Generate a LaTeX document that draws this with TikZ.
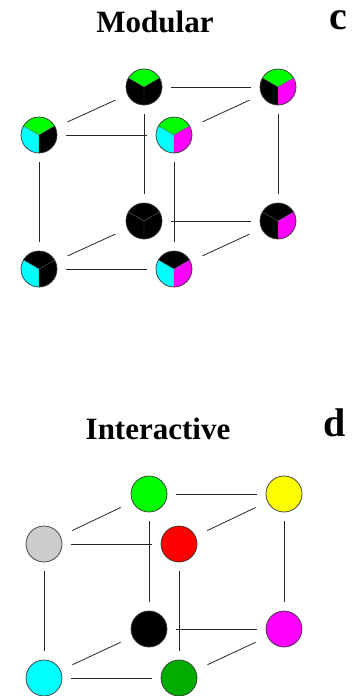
\documentclass[tikz,border=0pt]{standalone}
\usepackage{fontspec}
\setmainfont{Liberation Serif}

\definecolor{cgreen}{RGB}{0,255,0}
\definecolor{ccyan}{RGB}{0,255,255}
\definecolor{cmagenta}{RGB}{255,0,255}
\definecolor{cyellow}{RGB}{255,255,0}
\definecolor{cred}{RGB}{255,0,0}
\definecolor{cgray}{RGB}{204,204,204}
\definecolor{cdarkgreen}{RGB}{0,172,0}

\tikzset{
  vertex/.style={circle, draw=black!80, line width=0.7pt, minimum size=36pt, inner sep=0pt},
  edge/.style={draw=black!85, line width=0.8pt, shorten <=9pt, shorten >=9pt},
  slant/.style={edge, shorten <=13pt, shorten >=13pt},
  divider/.style={draw=black!65, line width=0.4pt},
  title/.style={font=\bfseries\fontsize{31}{31}\selectfont, anchor=base, inner sep=0pt},
  panel/.style={font=\bfseries\fontsize{40}{40}\selectfont, anchor=base, inner sep=0pt},
}

% three-sector disc: name, position, top colour, left colour, right colour
\newcommand\pienode[5]{%
  \fill[#3] (#2) -- ++(30:18pt) arc[start angle=30, end angle=150, radius=18pt] -- cycle;
  \fill[#4] (#2) -- ++(150:18pt) arc[start angle=150, end angle=270, radius=18pt] -- cycle;
  \fill[#5] (#2) -- ++(270:18pt) arc[start angle=270, end angle=390, radius=18pt] -- cycle;
  \draw[divider] (#2) -- ++(30:18pt) (#2) -- ++(150:18pt) (#2) -- ++(270:18pt);
  \node[vertex] (#1) at (#2) {};
}

\begin{document}
\begin{tikzpicture}[x=1pt, y=1pt]
\useasboundingbox (0,0) rectangle (357,-696);

% ---- panel c: modular ----
\node[title] (tmod) at (155,-32) {Modular};
\node[panel] (lc) at (338,-29) {c};

\pienode{mbtl}{144,-87}{cgreen}{black}{black}
\pienode{mbtr}{278,-87}{cgreen}{black}{cmagenta}
\pienode{mftl}{39,-135}{cgreen}{ccyan}{black}
\pienode{mftr}{174,-135}{cgreen}{ccyan}{cmagenta}
\pienode{mbbl}{144,-221}{black}{black}{black}
\pienode{mbbr}{278,-221}{black}{black}{cmagenta}
\pienode{mfbl}{39,-269}{black}{ccyan}{black}
\pienode{mfbr}{174,-269}{black}{ccyan}{cmagenta}

\draw[edge] (mbtl) -- (mbtr);
\draw[edge] (mftl) -- (mftr);
\draw[edge] (mbbl) -- (mbbr);
\draw[edge] (mfbl) -- (mfbr);
\draw[edge] (mbtl) -- (mbbl);
\draw[edge] (mbtr) -- (mbbr);
\draw[edge] (mftl) -- (mfbl);
\draw[edge] (mftr) -- (mfbr);
\draw[slant] (mftl) -- (mbtl);
\draw[slant] (mftr) -- (mbtr);
\draw[slant] (mfbl) -- (mbbl);
\draw[slant] (mfbr) -- (mbbr);

% ---- panel d: interactive ----
\node[title] (tint) at (158,-439) {Interactive};
\node[panel] (ld) at (335,-436) {d};

\node[vertex, fill=cgreen]     (ibtl) at (149,-494) {};
\node[vertex, fill=cyellow]    (ibtr) at (284,-494) {};
\node[vertex, fill=cgray]      (iftl) at (44,-544) {};
\node[vertex, fill=cred]       (iftr) at (179,-544) {};
\node[vertex, fill=black]      (ibbl) at (149,-629) {};
\node[vertex, fill=cmagenta]   (ibbr) at (284,-629) {};
\node[vertex, fill=ccyan]      (ifbl) at (44,-678) {};
\node[vertex, fill=cdarkgreen] (ifbr) at (179,-678) {};

\draw[edge] (ibtl) -- (ibtr);
\draw[edge] (iftl) -- (iftr);
\draw[edge] (ibbl) -- (ibbr);
\draw[edge] (ifbl) -- (ifbr);
\draw[edge] (ibtl) -- (ibbl);
\draw[edge] (ibtr) -- (ibbr);
\draw[edge] (iftl) -- (ifbl);
\draw[edge] (iftr) -- (ifbr);
\draw[slant] (iftl) -- (ibtl);
\draw[slant] (iftr) -- (ibtr);
\draw[slant] (ifbl) -- (ibbl);
\draw[slant] (ifbr) -- (ibbr);
\end{tikzpicture}
\end{document}
